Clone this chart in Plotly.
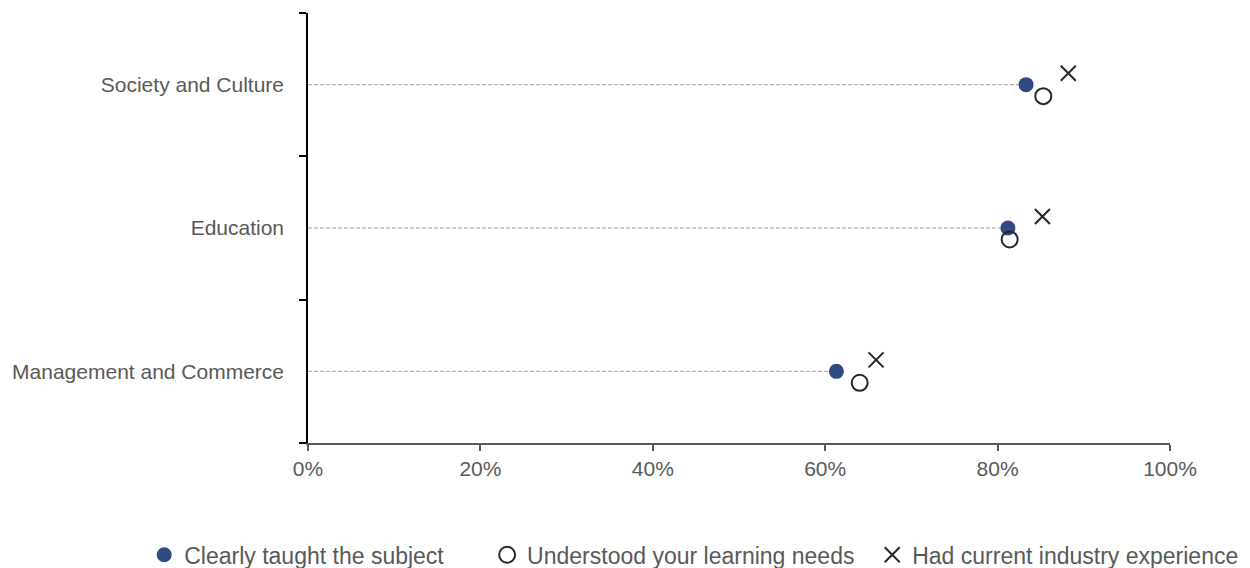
import plotly.graph_objects as go

# Fields of education, bottom to top
fields = ["Management and Commerce", "Education", "Society and Culture"]

# Percent of students agreeing with each statement about their teachers
clearly_taught = [61.3, 81.2, 83.3]
learning_needs = [64.0, 81.4, 85.3]
industry_exp = [65.9, 85.2, 88.2]

x_ticks = [0, 20, 40, 60, 80, 100]
x_tick_text = ["0%", "20%", "40%", "60%", "80%", "100%"]

series_names = [
    "Clearly taught the subject",
    "Understood your learning needs",
    "Had current industry experience",
]

text_grey = "#595959"
blue = "#2F4A80"
dark = "#262626"

pos = list(range(len(fields)))
offset = 0.08  # vertical nudge so markers don't sit on top of each other
nb = "\u00a0"  # pad legend entries so their spacing looks like the original

fig = go.Figure()

# Dashed leader lines from the axis to the blue dot
for p, v in zip(pos, clearly_taught):
    fig.add_trace(go.Scatter(
        x=[0, v], y=[p, p], mode="lines",
        line=dict(color="#A0A0A0", width=1, dash="4px,2px"),
        showlegend=False, hoverinfo="skip",
    ))

fig.add_trace(go.Scatter(
    x=clearly_taught, y=pos, mode="markers", name=series_names[0] + nb * 6,
    marker=dict(symbol="circle", size=15, color=blue),
))
fig.add_trace(go.Scatter(
    x=learning_needs, y=[p - offset for p in pos], mode="markers",
    name=series_names[1] + nb * 2,
    marker=dict(symbol="circle-open", size=16, color=dark, line=dict(width=2)),
))
fig.add_trace(go.Scatter(
    x=industry_exp, y=[p + offset for p in pos], mode="markers",
    name=series_names[2],
    marker=dict(symbol="x-thin-open", size=15, color=dark, line=dict(width=2, color=dark)),
))

# page body adds an 8px offset, so margins are measured from (8, 8)
fig.update_layout(
    width=1242, height=560,
    margin=dict(l=300, r=80, t=5, b=125, autoexpand=False),
    paper_bgcolor="white", plot_bgcolor="white",
    font=dict(family="Liberation Sans, Arial", size=21, color=text_grey),
    legend=dict(
        orientation="h", x=-0.19, xanchor="left", y=-0.26, yanchor="middle",
        font=dict(size=23, color=text_grey), itemwidth=30,
    ),
    xaxis=dict(
        range=[0, 100], tickvals=x_ticks, ticktext=x_tick_text,
        showgrid=False, zeroline=False, automargin=False,
        showline=True, linecolor=text_grey, linewidth=2,
        ticks="outside", ticklen=6, tickcolor=text_grey, tickwidth=2,
    ),
    yaxis=dict(
        range=[-0.5, 2.5], tickvals=pos, ticktext=fields,
        showgrid=False, zeroline=False, automargin=False,
        showline=True, linecolor="black", linewidth=1.5,
        ticks="", ticklabelstandoff=18,
        minor=dict(tickvals=[-0.5, 0.5, 1.5, 2.5], ticks="outside", ticklen=7,
                   tickcolor="black", tickwidth=1.5),
    ),
)

fig.write_html("out.html")
